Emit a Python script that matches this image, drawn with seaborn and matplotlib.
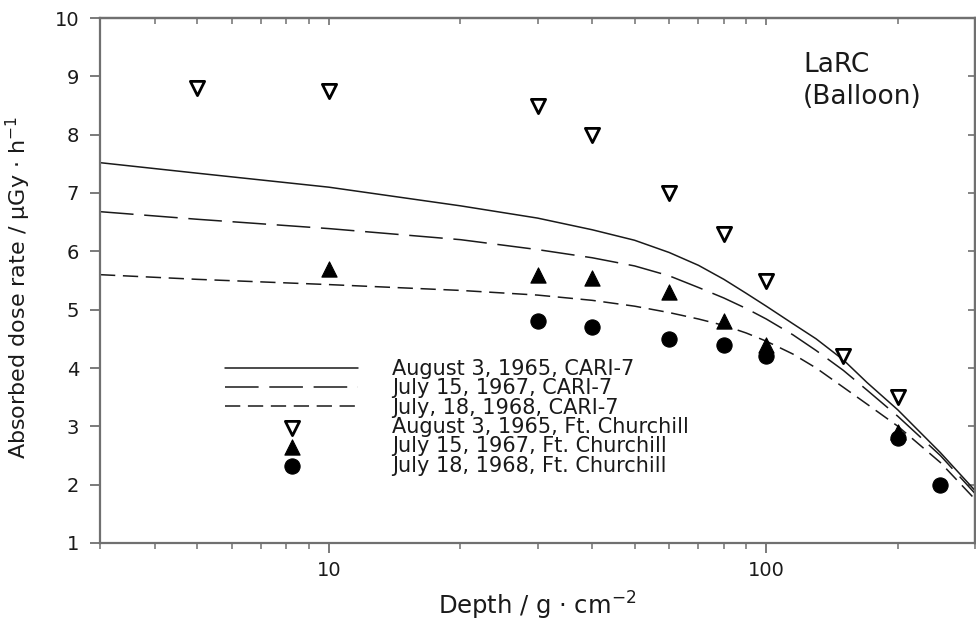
import numpy as np
import pandas as pd
import matplotlib
matplotlib.use("Agg")
import matplotlib.pyplot as plt
import seaborn as sns
from matplotlib.ticker import FixedLocator, NullFormatter, LogLocator

# ---------------- data ----------------
model_depth = [3, 5, 10, 20, 30, 40, 50, 60, 70, 80, 90, 100, 115, 130, 150, 170, 200, 250, 300]
cari_1965 = [7.52, 7.34, 7.10, 6.78, 6.57, 6.37, 6.19, 5.98, 5.76, 5.52, 5.28, 5.06, 4.76,
             4.50, 4.14, 3.75, 3.28, 2.55, 1.90]
cari_1967 = [6.68, 6.55, 6.39, 6.20, 6.03, 5.89, 5.75, 5.58, 5.38, 5.20, 5.02, 4.84, 4.57,
             4.30, 3.96, 3.62, 3.17, 2.50, 1.85]
cari_1968 = [5.60, 5.52, 5.43, 5.33, 5.25, 5.16, 5.06, 4.95, 4.84, 4.73, 4.60, 4.46, 4.24,
             4.00, 3.67, 3.38, 3.00, 2.38, 1.75]

obs_1965_depth = [5, 10, 30, 40, 60, 80, 100, 150, 200]
obs_1965 = [8.8, 8.75, 8.5, 8.0, 7.0, 6.3, 5.5, 4.2, 3.5]
obs_1967_depth = [10, 30, 40, 60, 80, 100, 200]
obs_1967 = [5.7, 5.6, 5.55, 5.3, 4.8, 4.4, 2.9]
obs_1968_depth = [30, 40, 60, 80, 100, 200, 250]
obs_1968 = [4.8, 4.7, 4.5, 4.4, 4.2, 2.8, 2.0]

line_labels = ["August 3, 1965, CARI-7", "July 15, 1967, CARI-7", "July, 18, 1968, CARI-7"]
obs_labels = ["August 3, 1965, Ft. Churchill", "July 15, 1967, Ft. Churchill",
              "July 18, 1968, Ft. Churchill"]
x_ticks = [10, 100]
x_tick_labels = ["10", "100"]
y_ticks = [1, 2, 3, 4, 5, 6, 7, 8, 9, 10]
y_tick_labels = ["1", "2", "3", "4", "5", "6", "7", "8", "9", "10"]

# ---------------- style ----------------
sns.set_style("ticks")
plt.rcParams["font.family"] = ["DejaVu Sans"]
plt.rcParams["mathtext.fontset"] = "dejavusans"

fig = plt.figure(figsize=(9.76, 6.27), dpi=100)
W, H = 976, 627
ax = fig.add_axes([100 / W, (H - 543) / H, 875 / W, 525 / H])

n = len(model_depth)
line_df = pd.DataFrame({
    "depth": model_depth * 3,
    "dose": cari_1965 + cari_1967 + cari_1968,
    "series": [line_labels[0]] * n + [line_labels[1]] * n + [line_labels[2]] * n,
})

line_styles = ["-", (0, (22, 7)), (0, (10, 5))]
for lab, ls in zip(line_labels, line_styles):
    sub = line_df[line_df["series"] == lab]
    sns.lineplot(data=sub, x="depth", y="dose", ax=ax, color="#1a1a1a",
                 linewidth=1.1, linestyle=ls, label=lab, estimator=None, sort=True)

sns.scatterplot(x=obs_1965_depth, y=obs_1965, ax=ax, marker="v", s=105,
                facecolor="white", edgecolor="black", linewidth=2.0,
                label=obs_labels[0], zorder=3)
sns.scatterplot(x=obs_1967_depth, y=obs_1967, ax=ax, marker="^", s=120,
                color="black", edgecolor="black", linewidth=0.8,
                label=obs_labels[1], zorder=3)
sns.scatterplot(x=obs_1968_depth, y=obs_1968, ax=ax, marker="o", s=120,
                color="black", edgecolor="black", linewidth=0.8,
                label=obs_labels[2], zorder=3)

ax.set_xscale("log")
ax.set_xlim(3, 300)
ax.set_ylim(1, 10)

ax.xaxis.set_major_locator(FixedLocator(x_ticks))
ax.set_xticklabels(x_tick_labels)
ax.xaxis.set_minor_locator(LogLocator(base=10, subs=np.arange(2, 10)))
ax.xaxis.set_minor_formatter(NullFormatter())
ax.set_yticks(y_ticks)
ax.set_yticklabels(y_tick_labels)

spine_col = "#707070"
for side in ["left", "bottom", "top", "right"]:
    ax.spines[side].set_visible(True)
    ax.spines[side].set_color(spine_col)
    ax.spines[side].set_linewidth(1.6)

ax.tick_params(axis="both", which="both", colors=spine_col, labelcolor="#1a1a1a",
               labelsize=14, direction="out", top=False, right=False)
ax.tick_params(axis="both", which="major", length=7, width=1.3)
ax.tick_params(axis="x", which="minor", length=4.5, width=1.1)
ax.tick_params(axis="y", which="major", pad=8)
ax.tick_params(axis="x", which="major", pad=6)

# inward ticks on top and right
ax2 = ax.secondary_xaxis("top")
ax2.xaxis.set_major_locator(FixedLocator(x_ticks))
ax2.xaxis.set_minor_locator(LogLocator(base=10, subs=np.arange(2, 10)))
ax2.xaxis.set_major_formatter(NullFormatter())
ax2.xaxis.set_minor_formatter(NullFormatter())
ax2.tick_params(axis="x", which="major", direction="in", length=5, width=1.2, colors=spine_col)
ax2.tick_params(axis="x", which="minor", direction="in", length=4, width=1.1, colors=spine_col)
ax2.spines["top"].set_color(spine_col)
ax2.spines["top"].set_linewidth(1.6)
ay2 = ax.secondary_yaxis("right")
ay2.set_yticks(y_ticks)
ay2.yaxis.set_major_formatter(NullFormatter())
ay2.tick_params(axis="y", which="major", direction="in", length=5, width=1.2, colors=spine_col)
ay2.spines["right"].set_color(spine_col)
ay2.spines["right"].set_linewidth(1.6)

ax.set_xlabel("Depth / g · cm$^{-2}$", fontsize=17.5, labelpad=7, color="#1a1a1a")
ax.set_ylabel("Absorbed dose rate / µGy · h$^{-1}$", fontsize=16, color="#1a1a1a")
ax.yaxis.set_label_coords((33 - 100) / 875, (543 - 287) / 525)

ax.text((803 - 100) / 875, (543 - 52) / 525, "LaRC\n(Balloon)", transform=ax.transAxes,
        fontsize=19, ha="left", va="top", linespacing=1.32, color="#1a1a1a")

handles, labels = ax.get_legend_handles_labels()
leg = ax.legend(handles, labels, loc="upper left",
                bbox_to_anchor=(225 / W, 1 - 359 / H), bbox_transform=fig.transFigure,
                frameon=False, fontsize=15, handlelength=6.4, handletextpad=1.6,
                labelspacing=-0.03, borderpad=0, borderaxespad=0)
for t in leg.get_texts():
    t.set_color("#1a1a1a")

fig.savefig("out.png", dpi=100)
